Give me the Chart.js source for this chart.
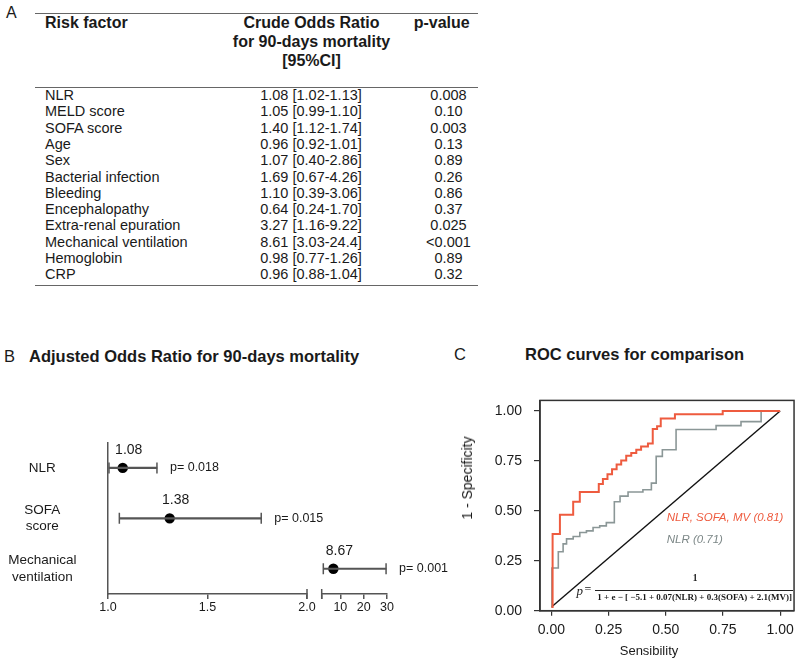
<!DOCTYPE html>
<html><head><meta charset="utf-8">
<script src="https://cdn.jsdelivr.net/npm/chart.js@4.4.1/dist/chart.umd.min.js"></script>
<style>
html,body{margin:0;padding:0;background:#fff;}
body{width:800px;height:663px;position:relative;overflow:hidden;font-family:"Liberation Sans",Arial,sans-serif;color:#1a1a1a;}
.t{position:absolute;white-space:nowrap;}
.rule{position:absolute;left:35px;width:443px;height:0;border-top:1.5px solid #666;}
#cvB{position:absolute;left:0;top:395px;}
#cvC{position:absolute;left:440px;top:380px;}
</style></head><body>
<canvas id="cvB" width="460" height="240"></canvas>
<canvas id="cvC" width="360" height="283"></canvas>
<script>
// ---------- Panel A data ----------
const riskFactors = ['NLR','MELD score','SOFA score','Age','Sex','Bacterial infection','Bleeding','Encephalopathy','Extra-renal epuration','Mechanical ventilation','Hemoglobin','CRP'];
const crudeOR = ['1.08 [1.02-1.13]','1.05 [0.99-1.10]','1.40 [1.12-1.74]','0.96 [0.92-1.01]','1.07 [0.40-2.86]','1.69 [0.67-4.26]','1.10 [0.39-3.06]','0.64 [0.24-1.70]','3.27 [1.16-9.22]','8.61 [3.03-24.4]','0.98 [0.77-1.26]','0.96 [0.88-1.04]'];
const crudeP = ['0.008','0.10','0.003','0.13','0.89','0.26','0.86','0.37','0.025','<0.001','0.89','0.32'];

// ---------- Panel B data ----------
const adjCategories = ['NLR', ['SOFA','score'], ['Mechanical','ventilation']];
const adjSegment = ['low','low','high'];
const adjOR = [1.074, 1.31, 7.0];
const adjLow = [1.005, 1.057, 2.69];
const adjHigh = [1.246, 1.77, 29.6];
const adjLabels = ['1.08','1.38','8.67'];
const adjP = ['p= 0.018','p= 0.015','p= 0.001'];
const axisLowTicks = [1.0, 1.5, 2.0];
const axisLowLabels = ['1.0','1.5','2.0'];
const axisHighTicks = [2, 10, 20, 30];
const axisHighLabels = ['', '10', '20', '30'];

// ---------- Panel C data ----------
const rocTicks = [0, 0.25, 0.5, 0.75, 1];
const rocTickLabels = ['0.00','0.25','0.50','0.75','1.00'];
const rocCombinedX = [0.000,0.005,0.037,0.095,0.124,0.207,0.225,0.245,0.265,0.285,0.305,0.327,0.349,0.371,0.392,0.422,0.443,0.462,0.478,0.540,0.749,1.000];
const rocCombinedY = [0.019,0.384,0.481,0.546,0.595,0.635,0.660,0.684,0.708,0.733,0.752,0.776,0.790,0.806,0.822,0.838,0.910,0.924,0.963,0.984,1.000,1.000];
const rocNlrX = [0.000,0.002,0.030,0.051,0.066,0.095,0.124,0.153,0.182,0.211,0.240,0.275,0.300,0.335,0.400,0.437,0.458,0.485,0.545,0.720,0.829,0.917,1.000];
const rocNlrY = [0.019,0.214,0.295,0.335,0.360,0.372,0.392,0.400,0.417,0.425,0.441,0.546,0.574,0.595,0.606,0.639,0.773,0.806,0.908,0.927,0.947,1.000,1.000];
const refLineX = [0, 1];
const refLineY = [0.019, 1];

// ---------- helpers ----------
function txt(s, x, cy, opt) {
  opt = opt || {};
  const d = document.createElement('div');
  d.className = 't';
  d.textContent = s;
  const lh = opt.lh || 20;
  d.style.lineHeight = lh + 'px';
  d.style.top = (cy - lh / 2) + 'px';
  d.style.left = x + 'px';
  d.style.font = opt.font || '14.5px "Liberation Sans", Arial, sans-serif';
  if (opt.color) d.style.color = opt.color;
  let tr = '';
  if (opt.align === 'center') tr += 'translateX(-50%) ';
  if (opt.rotate) tr += 'rotate(' + opt.rotate + 'deg) ';
  if (tr) d.style.transform = tr;
  document.body.appendChild(d);
  return d;
}
function rule(y) {
  const d = document.createElement('div');
  d.className = 'rule';
  d.style.top = y + 'px';
  document.body.appendChild(d);
}

// ---------- Panel A (table) ----------
const HB = 'bold 16px "Liberation Sans", Arial, sans-serif';
txt('A', 6, 14, {font: '16px "Liberation Sans", Arial, sans-serif'});
rule(13);
txt('Risk factor', 45, 24, {font: HB});
txt('Crude Odds Ratio', 311.5, 24, {font: HB, align: 'center'});
txt('for 90-days mortality', 311.5, 43, {font: HB, align: 'center'});
txt('[95%CI]', 311.5, 62, {font: HB, align: 'center'});
txt('p-value', 441.7, 24, {font: HB, align: 'center'});
rule(86.5);
riskFactors.forEach((r, i) => {
  const cy = 97 + i * 16.3;
  txt(r, 45, cy);
  txt(crudeOR[i], 311, cy, {align: 'center'});
  txt(crudeP[i], 448.5, cy, {align: 'center'});
});
rule(284.5);

// ---------- Panel B ----------
txt('B', 4, 357, {font: '16.5px "Liberation Sans", Arial, sans-serif'});
txt('Adjusted Odds Ratio for 90-days mortality', 29, 357, {font: 'bold 16.5px "Liberation Sans", Arial, sans-serif'});

const AX = '#555';
function seg(s, fn) { return adjCategories.map((c, i) => adjSegment[i] === s ? fn(i) : null); }
function segPts(s, arr) { return adjCategories.map((c, i) => ({x: adjSegment[i] === s ? arr[i] : null, y: i})); }

const annotB = {
  id: 'annotB',
  afterDatasetsDraw(chart) {
    const ctx = chart.ctx;
    ctx.save();
    ctx.fillStyle = '#1a1a1a';
    adjCategories.forEach((c, i) => {
      const xs = chart.scales[adjSegment[i] === 'low' ? 'xLow' : 'xHigh'];
      const py = chart.scales.y.getPixelForValue(i);
      const px = xs.getPixelForValue(adjOR[i]);
      const hx = xs.getPixelForValue(adjHigh[i]);
      ctx.font = '14px "Liberation Sans", Arial, sans-serif';
      ctx.textAlign = 'center'; ctx.textBaseline = 'middle';
      ctx.fillText(adjLabels[i], px + 6, py - 18);
      ctx.font = '12.5px "Liberation Sans", Arial, sans-serif';
      ctx.textAlign = 'left';
      ctx.fillText(adjP[i], hx + 13, py);
    });
    // axis-break marks at the end of the low segment and the start of the high segment
    const yb = chart.chartArea.bottom;
    ctx.strokeStyle = AX; ctx.lineWidth = 1.5;
    [chart.scales.xLow.right, chart.scales.xHigh.left].forEach(xb => {
      ctx.beginPath(); ctx.moveTo(xb, yb - 5); ctx.lineTo(xb, yb + 5); ctx.stroke();
    });
    ctx.restore();
  }
};

const xCommon = (weight, sw) => ({
  type: 'linear', position: 'bottom', stack: 'bx', stackWeight: sw, weight: weight, offset: false,
  grid: {display: true, offset: false, drawOnChartArea: false, drawTicks: true, tickLength: 5, color: AX, lineWidth: 1.5},
  border: {display: true, color: AX, width: 1.5},
  afterFit: s => { s.height = 30; }
});

new Chart(document.getElementById('cvB'), {
  type: 'bar',
  data: {
    labels: adjCategories,
    datasets: [
      {type: 'bar', indexAxis: 'y', xAxisID: 'xLow', yAxisID: 'y', grouped: false, data: seg('low', i => [adjLow[i], adjHigh[i]]), backgroundColor: AX, barThickness: 1.5},
      {type: 'bar', indexAxis: 'y', xAxisID: 'xHigh', yAxisID: 'y', grouped: false, data: seg('high', i => [adjLow[i], adjHigh[i]]), backgroundColor: AX, barThickness: 1.5},
      {type: 'scatter', xAxisID: 'xLow', yAxisID: 'y', data: segPts('low', adjLow), pointStyle: 'line', rotation: 90, pointRadius: 5.5, borderColor: AX, borderWidth: 1.5},
      {type: 'scatter', xAxisID: 'xLow', yAxisID: 'y', data: segPts('low', adjHigh), pointStyle: 'line', rotation: 90, pointRadius: 5.5, borderColor: AX, borderWidth: 1.5},
      {type: 'scatter', xAxisID: 'xHigh', yAxisID: 'y', data: segPts('high', adjLow), pointStyle: 'line', rotation: 90, pointRadius: 5.5, borderColor: AX, borderWidth: 1.5},
      {type: 'scatter', xAxisID: 'xHigh', yAxisID: 'y', data: segPts('high', adjHigh), pointStyle: 'line', rotation: 90, pointRadius: 5.5, borderColor: AX, borderWidth: 1.5},
      {type: 'scatter', xAxisID: 'xLow', yAxisID: 'y', data: segPts('low', adjOR), pointRadius: 5.2, backgroundColor: '#000', borderWidth: 0},
      {type: 'scatter', xAxisID: 'xHigh', yAxisID: 'y', data: segPts('high', adjOR), pointRadius: 5.2, backgroundColor: '#000', borderWidth: 0}
    ]
  },
  options: {
    responsive: false, animation: false, devicePixelRatio: 1,
    layout: {padding: {left: 0, top: 13, right: 73, bottom: 11}},
    plugins: {legend: {display: false}, tooltip: {enabled: false}},
    scales: {
      xLow: Object.assign(xCommon(1, 199), {
        min: 1, max: 2,
        afterBuildTicks: s => { s.ticks = axisLowTicks.map(v => ({value: v})); },
        ticks: {autoSkip: false, maxRotation: 0, minRotation: 0, padding: 1, color: '#1a1a1a',
          font: {family: '"Liberation Sans", Arial, sans-serif', size: 12.5},
          callback: (v, i) => axisLowLabels[i]}
      }),
      xGap: {
        type: 'linear', position: 'bottom', stack: 'bx', stackWeight: 14.7, weight: 2, min: 0, max: 1, offset: false,
        grid: {display: false}, border: {display: false}, ticks: {display: false},
        afterFit: s => { s.height = 30; }
      },
      xHigh: Object.assign(xCommon(3, 65.3), {
        min: 2, max: 30,
        afterBuildTicks: s => { s.ticks = axisHighTicks.map(v => ({value: v})); },
        ticks: {autoSkip: false, maxRotation: 0, minRotation: 0, padding: 1, color: '#1a1a1a',
          font: {family: '"Liberation Sans", Arial, sans-serif', size: 12.5},
          callback: (v, i) => axisHighLabels[i]}
      }),
      y: {
        type: 'category', position: 'left', offset: true,
        grid: {display: false, drawTicks: false},
        border: {display: true, color: AX, width: 1.5},
        ticks: {crossAlign: 'center', padding: 31.5, color: '#1a1a1a',
          font: {family: '"Liberation Sans", Arial, sans-serif', size: 13.5, lineHeight: 1.2}},
        afterFit: s => { s.width = 108; }
      }
    }
  },
  plugins: [annotB]
});

// ---------- Panel C ----------
txt('C', 454, 355, {font: '16.5px "Liberation Sans", Arial, sans-serif'});
txt('ROC curves for comparison', 525, 355, {font: 'bold 16.5px "Liberation Sans", Arial, sans-serif'});
txt('1 - Specificity', 467, 480, {font: '14px "Liberation Sans", Arial, sans-serif', align: 'center', rotate: -90});
txt('Sensibility', 649, 652.5, {font: '13px "Liberation Sans", Arial, sans-serif', align: 'center'});
txt('NLR, SOFA, MV (0.81)', 666.7, 521, {font: 'italic 11.5px "Liberation Sans", Arial, sans-serif', color: '#ee5b3f'});
txt('NLR (0.71)', 666.7, 543.3, {font: 'italic 11.5px "Liberation Sans", Arial, sans-serif', color: '#7c8787'});
// formula
txt('p', 576.5, 592.5, {font: 'italic 13px "Liberation Serif", "Times New Roman", serif'});
txt('=', 584.5, 591.5, {font: '12px "Liberation Serif", "Times New Roman", serif'});
(function(){
  const d = document.createElement('div');
  d.style.cssText = 'position:absolute;left:595px;top:589.5px;width:198px;height:0;border-top:1px solid #222;';
  document.body.appendChild(d);
})();
txt('1', 695, 583, {font: 'bold 9.5px "Liberation Serif", "Times New Roman", serif', align: 'center'});
txt('1 + e \u2212 [ \u22125.1 + 0.07(NLR) + 0.3(SOFA) + 2.1(MV)]', 694.7, 601.5, {font: 'bold 9px "Liberation Serif", "Times New Roman", serif', align: 'center'});

const zip = (xs, ys) => xs.map((x, i) => ({x: x, y: ys[i]}));
const frame = {
  id: 'frame',
  afterDatasetsDraw(chart) {
    const {ctx, chartArea: a} = chart;
    ctx.save();
    ctx.strokeStyle = '#333';
    ctx.lineWidth = 1.5;
    ctx.strokeRect(a.left, a.top, a.right - a.left, a.bottom - a.top);
    ctx.restore();
  }
};
const rocTickFont = {family: '"Liberation Sans", Arial, sans-serif', size: 14};
new Chart(document.getElementById('cvC'), {
  type: 'line',
  data: {
    datasets: [
      {label: 'NLR, SOFA, MV', data: zip(rocCombinedX, rocCombinedY), borderColor: '#ee5b3f', borderWidth: 2, stepped: 'before', pointRadius: 0, fill: false},
      {label: 'NLR', data: zip(rocNlrX, rocNlrY), borderColor: '#8b9797', borderWidth: 1.6, stepped: 'before', pointRadius: 0, fill: false},
      {label: 'Reference', data: zip(refLineX, refLineY), borderColor: '#111', borderWidth: 1.4, pointRadius: 0, fill: false}
    ]
  },
  options: {
    responsive: false, animation: false, devicePixelRatio: 1,
    layout: {padding: {left: 0, top: 14, right: 5, bottom: 22.3}},
    plugins: {legend: {display: false}, tooltip: {enabled: false}},
    scales: {
      x: {
        type: 'linear', min: -0.0501, max: 1.061,
        afterBuildTicks: s => { s.ticks = rocTicks.map(v => ({value: v})); },
        grid: {display: true, drawOnChartArea: false, tickLength: 5, color: '#333', lineWidth: 1.2},
        border: {display: true, color: '#333', width: 1.5},
        ticks: {autoSkip: false, maxRotation: 0, padding: 6, color: '#1a1a1a', font: rocTickFont,
          callback: (v, i) => rocTickLabels[i]},
        afterFit: s => { s.height = 30; }
      },
      y: {
        type: 'linear', min: 0, max: 1.0535,
        afterBuildTicks: s => { s.ticks = rocTicks.map(v => ({value: v})); },
        grid: {display: true, drawOnChartArea: false, tickLength: 6, color: '#333', lineWidth: 1.2},
        border: {display: true, color: '#333', width: 1.5},
        ticks: {autoSkip: false, padding: 12, color: '#1a1a1a', font: rocTickFont,
          callback: (v, i) => rocTickLabels[i]},
        afterFit: s => { s.width = 100; }
      }
    }
  },
  plugins: [frame]
});
</script>
</body></html>
